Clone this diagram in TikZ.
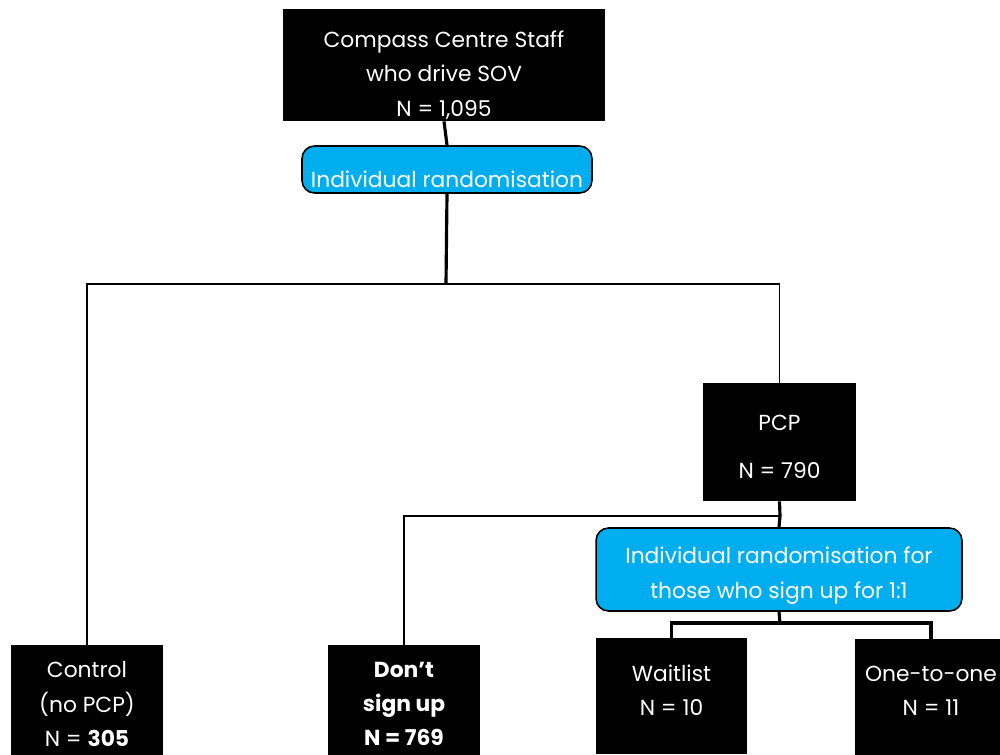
\documentclass[tikz,border=0pt]{standalone}
\usepackage{fontspec}
\setmainfont{Poppins}
\usepackage{tikz}
\usetikzlibrary{positioning,backgrounds}

\definecolor{randblue}{RGB}{0,174,239}

\begin{document}
\begin{tikzpicture}[x=0.02cm,y=-0.02cm,font=\fontsize{12.4}{19.5}\selectfont]
  \tikzstyle{group}=[rectangle,fill=black,text=white,align=center,
                     inner sep=0pt]
  \tikzstyle{rand}=[rectangle,rounded corners=2.5mm,draw=black,line width=0.9pt,
                    fill=randblue,text=white,align=center,inner sep=0pt]
  \tikzstyle{every label}=[text=white,align=center]
  \tikzstyle{thin link}=[line width=0.9pt]
  \tikzstyle{thick link}=[line width=1.8pt]
  \clip (0,0) rectangle (1000,754);
  \fill[white] (0,0) rectangle (1000,754);

  % top of the trial
  \node [group,minimum width=6.44cm,minimum height=2.24cm] (staff) at (444,65)
    [label={[yshift=-0.2cm]center:Compass Centre Staff\\who drive SOV\\N = 1,095}] {};
  \node [rand,minimum width=5.8cm,minimum height=0.94cm] (rand1) at (447,169.5)
    [label={[yshift=-0.2cm]center:Individual randomisation}] {};
  \coordinate (split1) at (446,284);

  % arms
  \node [group,minimum width=3.04cm,minimum height=2.36cm] (control) at (87,704)
    {Control\\(no PCP)\\N = \textbf{305}};
  \node [group,minimum width=3.06cm,minimum height=2.36cm] (pcp) at (779.5,442)
    [label={[yshift=-0.1cm]center:PCP\\[0.28cm]N = 790}] {};

  % second stage
  \coordinate (split2) at (780,516);
  \node [rand,minimum width=7.32cm,minimum height=1.66cm] (rand2) at (779,569.5)
    [label={[yshift=-0.12cm]center:Individual randomisation for\\those who sign up for 1:1}] {};
  \coordinate (split3) at (780,623);
  \node [group,minimum width=3.04cm,minimum height=2.36cm] (dontsign) at (404,704)
    {\textbf{Don’t}\\\textbf{sign up}\\\textbf{N = 769}};
  \node [group,minimum width=3.02cm,minimum height=2.32cm] (waitlist) at (671.5,696)
    [label={[yshift=0.11cm]center:Waitlist\\N = 10}] {};
  \node [group,minimum width=3.06cm,minimum height=2.32cm] (onetoone) at (931,697)
    [label={[yshift=0.13cm]center:One-to-one\\N = 11}] {};

  % connectors
  \draw [thick link] (staff.south) -- (rand1.north);
  \draw [thick link] (rand1.south) -- (split1);
  \draw [thin link] (split1) -| (control.north);
  \draw [thin link] (split1) -| (pcp.north);
  \draw [thick link] (pcp.south) -- (split2) -- (rand2.north);
  \draw [thin link] (split2) -| (dontsign.north);
  \draw [thick link] (rand2.south) -- (split3);
  \draw [thick link] (split3) -| (waitlist.north);
  \draw [thick link] (split3) -| (onetoone.north);
\end{tikzpicture}
\end{document}
